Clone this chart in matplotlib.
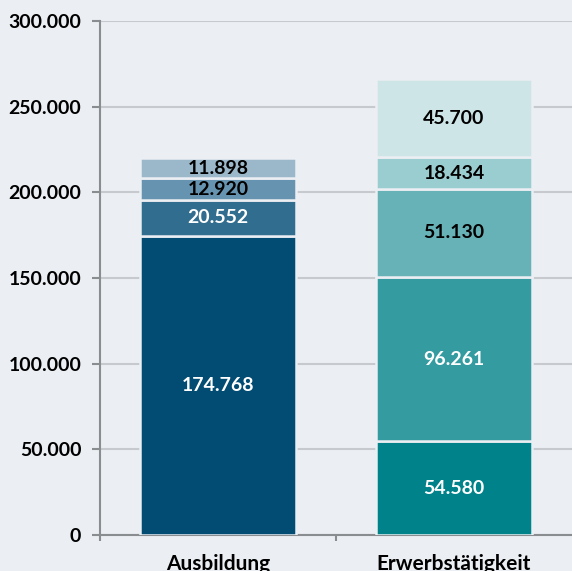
import matplotlib.pyplot as plt
from matplotlib.ticker import FuncFormatter

categories = ['Ausbildung', 'Erwerbstätigkeit']

# segments per bar, bottom to top
ausbildung = [174768, 20552, 12920, 11898]
erwerb = [54580, 96261, 51130, 18434, 45700]

ausbildung_colors = ['#024c73', '#316d8f', '#6694b0', '#9bb8cb']
erwerb_colors = ['#00828a', '#349ba1', '#67b2b7', '#9acdd0', '#cde5e7']
ausbildung_text = ['white', 'white', 'black', 'black']
erwerb_text = ['white', 'white', 'black', 'black', 'black']

BG = '#ebeef2'
FONT = ['Lato', 'DejaVu Sans']
FS = 14


def de_fmt(v):
    return f'{int(round(v)):,}'.replace(',', '.')


fig = plt.figure(figsize=(5.72, 5.71), dpi=100, facecolor=BG)
ax = fig.add_axes([100 / 572, 36 / 571, 472 / 572, 514 / 571])
ax.set_facecolor(BG)

width = 0.66
for i, (vals, cols, tcols) in enumerate([(ausbildung, ausbildung_colors, ausbildung_text),
                                          (erwerb, erwerb_colors, erwerb_text)]):
    bottom = 0
    for v, c, tc in zip(vals, cols, tcols):
        ax.bar(i, v, width=width, bottom=bottom, color=c, edgecolor=BG,
               linewidth=1.8, zorder=3)
        ax.text(i, bottom + v / 2, de_fmt(v), ha='center', va='center',
                color=tc, fontsize=FS, fontweight='bold', family=FONT, zorder=4)
        bottom += v

ax.set_xlim(-0.5, 1.5)
ax.set_ylim(0, 300000)
ax.set_yticks(range(0, 300001, 50000))
ax.yaxis.set_major_formatter(FuncFormatter(lambda v, p: de_fmt(v)))
ax.grid(axis='y', color='#c6c9cd', linewidth=1.5, zorder=1)

ax.set_xticks([0, 1])
ax.set_xticklabels(categories)
ax.set_xticks([-0.5, 0.5], minor=True)
ax.tick_params(axis='x', which='major', length=0, pad=14)
ax.tick_params(axis='x', which='minor', length=4, color='#8a8d90', width=1.5)
ax.tick_params(axis='y', length=5.5, color='#8a8d90', width=1.5, pad=8)

for lab in ax.get_yticklabels():
    lab.set_fontweight('bold')
    lab.set_fontsize(FS)
    lab.set_family(FONT)
for lab in ax.get_xticklabels():
    lab.set_fontweight('bold')
    lab.set_fontsize(15)
    lab.set_family(FONT)

for s in ['top', 'right']:
    ax.spines[s].set_visible(False)
for s in ['left', 'bottom']:
    ax.spines[s].set_color('#8a8d90')
    ax.spines[s].set_linewidth(1.5)

fig.savefig('out.png', dpi=100, facecolor=BG)
